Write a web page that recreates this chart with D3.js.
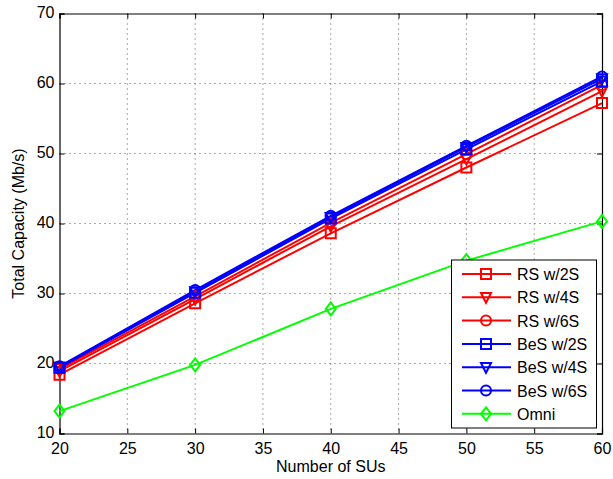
<!DOCTYPE html>
<html><head><meta charset="utf-8">
<script src="https://cdn.jsdelivr.net/npm/d3@7"></script>
<style>body{margin:0;background:#fff}svg{display:block;font-family:"Liberation Sans",Arial,sans-serif}</style>
</head><body><svg id="c" width="613" height="479"></svg>
<script>
const xValues = [20, 30, 40, 50, 60];
const xTicks = [20, 25, 30, 35, 40, 45, 50, 55, 60];
const yTicks = [10, 20, 30, 40, 50, 60, 70];
const seriesNames = ["RS w/2S", "RS w/4S", "RS w/6S", "BeS w/2S", "BeS w/4S", "BeS w/6S", "Omni"];
const rs2 = [18.4, 28.6, 38.6, 48.0, 57.2];
const rs4 = [18.9, 29.2, 39.6, 49.2, 58.9];
const rs6 = [19.2, 29.6, 40.1, 49.9, 59.8];
const bes2 = [19.4, 30.1, 40.7, 50.6, 60.3];
const bes4 = [19.5, 30.3, 40.9, 50.9, 60.7];
const bes6 = [19.6, 30.5, 41.1, 51.1, 61.0];
const omni = [13.2, 19.8, 27.8, 34.7, 40.3];
const seriesColors = ["#ff0000","#ff0000","#ff0000","#0000ff","#0000ff","#0000ff","#00ff00"];
const seriesMarkers = ["square","triangle","circle","square","triangle","circle","diamond"];
const seriesValues = [rs2, rs4, rs6, bes2, bes4, bes6, omni];

const svg = d3.select("#c");
const L = 59.5, R = 602, T = 13.5, B = 433.5;
const x = d3.scaleLinear().domain([20, 60]).range([L, R]);
const y = d3.scaleLinear().domain([10, 70]).range([B, T]);

// grid
const g = svg.append("g");
g.selectAll(".gx").data(xTicks.slice(1, -1)).enter().append("line")
  .attr("x1", d => x(d)).attr("x2", d => x(d)).attr("y1", T).attr("y2", B)
  .attr("stroke", "#555").attr("stroke-width", 1).attr("stroke-dasharray", "1,4");
g.selectAll(".gy").data(yTicks.slice(1, -1)).enter().append("line")
  .attr("y1", d => y(d)).attr("y2", d => y(d)).attr("x1", L).attr("x2", R)
  .attr("stroke", "#555").attr("stroke-width", 1).attr("stroke-dasharray", "1,4");

// axes
const fs = "16px";
const xa = svg.append("g").attr("transform", `translate(0,${B})`)
  .call(d3.axisBottom(x).tickValues(xTicks).tickSize(-5).tickPadding(9));
const xt = svg.append("g").attr("transform", `translate(0,${T})`)
  .call(d3.axisTop(x).tickValues(xTicks).tickSize(-5).tickFormat(""));
const ya = svg.append("g").attr("transform", `translate(${L},0)`)
  .call(d3.axisLeft(y).tickValues(yTicks).tickSize(-5).tickPadding(5));
const yr = svg.append("g").attr("transform", `translate(${R},0)`)
  .call(d3.axisRight(y).tickValues(yTicks).tickSize(-5).tickFormat(""));
[xa, xt, ya, yr].forEach(a => {
  a.select(".domain").attr("stroke", "#000").attr("stroke-width", 1.2);
  a.selectAll(".tick line").attr("stroke", "#000");
  a.selectAll("text").attr("font-size", fs).attr("fill", "#000").attr("font-family", "Liberation Sans, Arial, sans-serif");
});
ya.selectAll("text").attr("dy", "0.25em");

// labels
svg.append("text").attr("x", (L + R) / 2).attr("y", 472).attr("text-anchor", "middle")
  .attr("font-size", "16px").text("Number of SUs");
svg.append("text").attr("transform", `translate(24,${(T + B) / 2}) rotate(-90)`)
  .attr("text-anchor", "middle").attr("font-size", "16px").text("Total Capacity (Mb/s)");

function markerPath(type) {
  const s = 5;
  if (type === "square") return `M${-s},${-s}H${s}V${s}H${-s}Z`;
  if (type === "triangle") return `M${-s},${-s*0.85}H${s}L0,${s*1.1}Z`;
  if (type === "diamond") return `M0,${-s*1.3}L${s},0L0,${s*1.3}L${-s},0Z`;
  return d3.symbol().type(d3.symbolCircle).size(Math.PI * s * s)();
}

const line = d3.line().x((d, i) => x(xValues[i])).y(d => y(d));
const plot = svg.append("g");
seriesValues.forEach((vals, k) => {
  plot.append("path").datum(vals).attr("d", line).attr("fill", "none")
    .attr("stroke", seriesColors[k]).attr("stroke-width", 2);
});
seriesValues.forEach((vals, k) => {
  plot.selectAll(null).data(vals).enter().append("path")
    .attr("transform", (d, i) => `translate(${x(xValues[i])},${y(d)})`)
    .attr("d", markerPath(seriesMarkers[k])).attr("fill", "none")
    .attr("stroke", seriesColors[k]).attr("stroke-width", 2);
});

// legend
const lg = svg.append("g");
lg.append("rect").attr("x", 451.5).attr("y", 260).attr("width", 145).attr("height", 168)
  .attr("fill", "#fff").attr("stroke", "#000").attr("stroke-width", 1);
seriesNames.forEach((name, k) => {
  const yy = 274 + k * 23.3;
  lg.append("line").attr("x1", 462).attr("x2", 511).attr("y1", yy).attr("y2", yy)
    .attr("stroke", seriesColors[k]).attr("stroke-width", 2);
  lg.append("path").attr("transform", `translate(486,${yy})`).attr("d", markerPath(seriesMarkers[k]))
    .attr("fill", "none").attr("stroke", seriesColors[k]).attr("stroke-width", 2);
  lg.append("text").attr("x", 517).attr("y", yy + 6).attr("font-size", "16px").text(name);
});
</script></body></html>
